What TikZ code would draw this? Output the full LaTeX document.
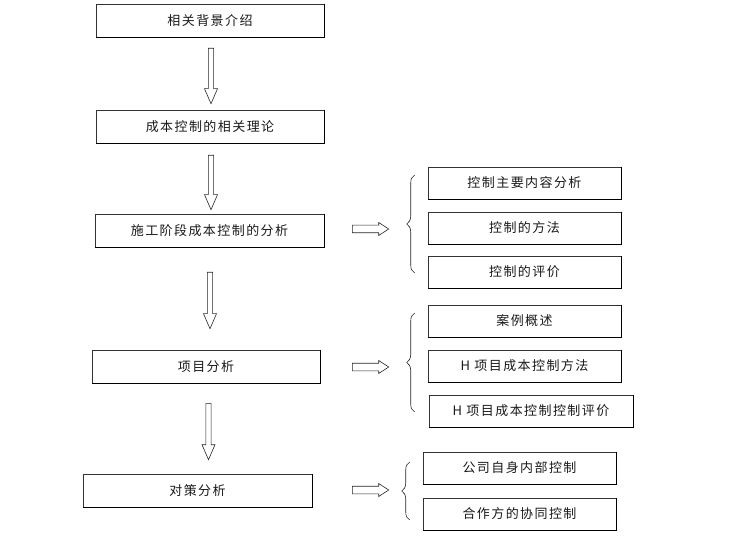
\documentclass[tikz,border=0pt]{standalone}
\usepackage{fontspec}
\newfontfamily\cjk[LetterSpace=11]{Noto Sans CJK SC}
\usetikzlibrary{calc,decorations.pathreplacing}
\tikzset{
  box/.style={draw=black!80, line width=0.6pt, inner sep=0pt, minimum height=33pt, font=\cjk\fontsize{13}{15}\selectfont, text=black!90},
  blk/.style={draw=black!85, line width=0.6pt, fill=white, line join=miter},
  brc/.style={draw=black!85, line width=0.6pt, decorate, decoration={brace, amplitude=8pt}},
  edge/.style={draw=black, line width=1.3pt}
}
\newcommand\blockdown[2]{\draw[blk] let \p1=(#1), \p2=(#2) in
  (\x1-2.6pt,\y1) -- (\x1+2.6pt,\y1) -- (\x1+2.6pt,\y2+15pt) -- (\x1+6.5pt,\y2+15pt) -- (\x1,\y2)
  -- (\x1-6.5pt,\y2+15pt) -- (\x1-2.6pt,\y2+15pt) -- cycle;}
\newcommand\blockright[2]{\draw[blk] let \p1=(#1), \p2=(#2) in
  (\x1,\y1+3.8pt) -- (\x2-10pt,\y1+3.8pt) -- (\x2-10pt,\y1+6.5pt) -- (\x2,\y1) -- (\x2-10pt,\y1-6.5pt)
  -- (\x2-10pt,\y1-3.8pt) -- (\x1,\y1-3.8pt) -- cycle;}
\begin{document}
\begin{tikzpicture}[x=1pt,y=-1pt]
\useasboundingbox (0,0) rectangle (731,537);
% left column
\node[box, minimum width=228pt] (b1) at (210,20.5) {相关背景介绍};
\node[box, minimum width=228pt] (b2) at (210,126.5) {成本控制的相关理论};
\node[box, minimum width=229pt] (b3) at (209.5,230.5) {施工阶段成本控制的分析};
\node[box, minimum width=228pt] (b4) at (206,366.5) {项目分析};
\node[box, minimum width=229pt] (b5) at (197.5,490.5) {对策分析};
% right groups
\node[box, minimum width=193pt, minimum height=32pt] (r11) at (524.5,183) {控制主要内容分析};
\node[box, minimum width=193pt, minimum height=32pt] (r12) at (524.5,228) {控制的方法};
\node[box, minimum width=193pt, minimum height=32pt] (r13) at (524.5,272) {控制的评价};
\node[box, minimum width=193pt, minimum height=32pt] (r21) at (524.5,321) {案例概述};
\node[box, minimum width=193pt, minimum height=32pt] (r22) at (524.5,366) {H 项目成本控制方法};
\node[box, minimum width=204pt, minimum height=32pt] (r23) at (531,411) {H 项目成本控制控制评价};
\node[box, minimum width=193pt, minimum height=32pt] (r31) at (519.5,468) {公司自身内部控制};
\node[box, minimum width=193pt, minimum height=32pt] (r32) at (519.5,514) {合作方的协同控制};
% thicker right/bottom edges
\foreach \n in {b1,b2,b3,b4,b5,r11,r12,r13,r21,r22,r23,r31,r32}
  \draw[edge] (\n.north east) -- (\n.south east) -- (\n.south west);
% down arrows
\coordinate (a1s) at ($(b1.south)+(1,11)$);  \coordinate (a1e) at ($(b2.north)+(1,-6)$);
\coordinate (a2s) at ($(b2.south)+(1,12)$);  \coordinate (a2e) at ($(b3.north)+(1.5,-4)$);
\coordinate (a3s) at ($(b3.south)+(0.5,25)$); \coordinate (a3e) at ($(b4.north)+(4,-21)$);
\coordinate (a4s) at ($(b4.south)+(2.5,20)$); \coordinate (a4e) at ($(b5.north)+(11,-14)$);
\blockdown{a1s}{a1e}
\blockdown{a2s}{a2e}
\blockdown{a3s}{a3e}
\blockdown{a4s}{a4e}
% right arrows
\coordinate (c1s) at ($(b3.east)+(28,-1.5)$); \coordinate (c1e) at ($(r12.west)+(-39,0)$);
\coordinate (c2s) at ($(b4.east)+(32,0.5)$); \coordinate (c2e) at ($(r22.west)+(-39,0)$);
\coordinate (c3s) at ($(b5.east)+(40,-0.5)$); \coordinate (c3e) at ($(r31.west)+(-34,0)$);
\blockright{c1s}{c1e}
\blockright{c2s}{c2e}
\blockright{c3s}{c3e}
% braces
\draw[brc] ($(r13.west)+(-13,1)$) -- ($(r11.west)+(-13,-8)$);
\draw[brc] ($(r23.west)+(-14,1)$) -- ($(r21.west)+(-13,-8)$);
\draw[brc] ($(r32.west)+(-13,6)$) -- ($(r31.west)+(-13,-6)$);
\end{tikzpicture}
\end{document}
